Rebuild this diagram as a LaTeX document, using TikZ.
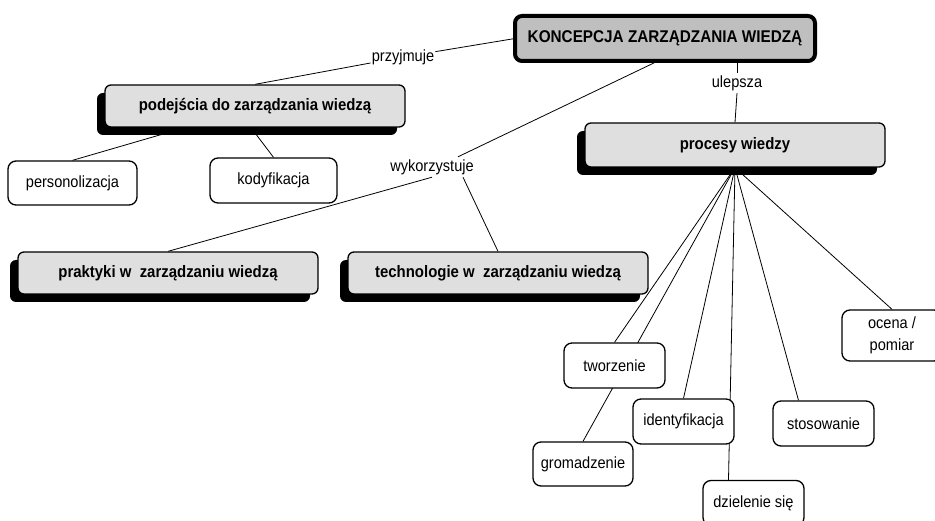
\documentclass[tikz,border=0pt]{standalone}
\usepackage{fontspec}
\setmainfont{Liberation Sans}[FakeStretch=0.9]
\usetikzlibrary{shadows,calc}
\pgfdeclarelayer{bg}
\pgfsetlayers{bg,main}
\begin{document}
\begin{tikzpicture}[x=1pt,y=-1pt,
  conn/.style={draw=black, line width=0.8pt},
  mainbox/.style={rectangle, rounded corners=7pt, draw=black, line width=4pt, fill=gray!50,
    minimum width=300pt, minimum height=45pt, inner sep=0pt, outer sep=0pt,
    font=\fontsize{17}{20}\selectfont\bfseries},
  graybox/.style={rectangle, rounded corners=6pt, draw=black, line width=1.3pt, fill=gray!25,
    minimum width=300pt, minimum height=42pt, inner sep=0pt,
    font=\fontsize{16.6}{19}\selectfont\bfseries,
    drop shadow={shadow xshift=-8pt, shadow yshift=-8pt, fill=black, opacity=1}},
  whitebox/.style={rectangle, rounded corners=8pt, draw=black, line width=1.3pt, fill=white,
    minimum width=101pt, minimum height=45pt, inner sep=0pt, align=center,
    font=\fontsize{16.2}{21.5}\selectfont},
  linklabel/.style={rectangle, inner sep=1pt, minimum height=20pt,
    font=\fontsize{16.2}{19}\selectfont}
]
\useasboundingbox (0,0) rectangle (935,521);
% concepts
\node[mainbox] (konc) at (665,38.5) {KONCEPCJA ZARZĄDZANIA WIEDZĄ};
\node[graybox] (pod) at (255,106) {podejścia do zarządzania wiedzą};
\node[graybox, minimum height=44pt] (proc) at (735,145) {procesy wiedzy};
\node[graybox] (prak) at (168,273) {praktyki w~~zarządzaniu wiedzą};
\node[graybox] (tech) at (498,273) {technologie w~~zarządzaniu wiedzą};
\node[whitebox, minimum width=129pt, minimum height=44pt] (pers) at (72.5,183) {personolizacja};
\node[whitebox, minimum width=127pt] (kod) at (273.5,180.5) {kodyfikacja};
\node[whitebox] (tworz) at (614.5,365.5) {tworzenie};
\node[whitebox, minimum width=100pt, minimum height=44pt] (grom) at (583,464) {gromadzenie};
\node[whitebox] (ident) at (683.5,421.5) {identyfikacja};
\node[whitebox] (dziel) at (753.5,503) {dzielenie się};
\node[whitebox] (stos) at (823.5,423.5) {stosowanie};
\node[whitebox, minimum width=100pt, minimum height=51pt] (ocena) at (892,335.5) {ocena /\\pomiar};
% linking phrases
\node[linklabel] (prz) at (403,57) {przyjmuje};
\node[linklabel] (wyk) at (432,167) {wykorzystuje};
\node[linklabel] (ule) at (737,83) {ulepsza};
% connectors
\begin{pgfonlayer}{bg}
\draw[conn] (konc.west) -- (prz);
\draw[conn] (prz) -- (pod.north);
\draw[conn] ([xshift=-7pt]konc.south) -- ([xshift=26pt]wyk.north);
\draw[conn] (wyk.south) -- (prak.north);
\draw[conn] ([xshift=31pt]wyk.south) -- (tech.north);
\draw[conn] (konc.south -| ule) -- (ule.north);
\draw[conn] (ule.south) -- (proc.north);
\draw[conn] ([xshift=-70pt]pod.south) -- (pers.north);
\draw[conn] ([xshift=-4pt]pod.south) -- (kod.north);
\draw[conn] (proc.south) -- (tworz.north);
\draw[conn] (proc.south) -- (grom.north);
\draw[conn] (proc.south) -- (ident.north);
\draw[conn] (proc.south) -- ([xshift=-25pt]dziel.north);
\draw[conn] (proc.south) -- ([xshift=-25pt]stos.north);
\draw[conn] (proc.south) -- (ocena.north);
\end{pgfonlayer}
\end{tikzpicture}
\end{document}
